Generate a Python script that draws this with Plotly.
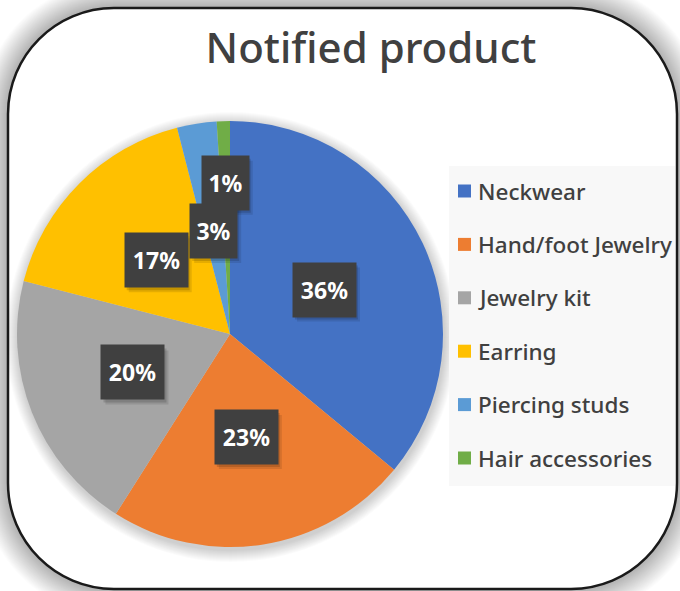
import math
import plotly.graph_objects as go

# ---- data ----
categories = ["Neckwear", "Hand/foot Jewelry", "Jewelry kit", "Earring", "Piercing studs", "Hair accessories"]
values = [36, 23, 20, 17, 3, 1]
colors = ["#4472C4", "#ED7D31", "#A5A5A5", "#FFC000", "#5B9BD5", "#70AD47"]
title_text = "Notified product"

# ---- layout helpers (pixels -> paper) ----
W, H = 680, 591


def X(px):
    return px / W


def Y(py):
    return 1 - py / H


CX, CY, R = 230, 334, 213


def rrect(l, t, r, b, rad):
    k = 0.5523 * rad
    return (
        f"M {X(l+rad)},{Y(t)} L {X(r-rad)},{Y(t)} "
        f"C {X(r-rad+k)},{Y(t)} {X(r)},{Y(t+rad-k)} {X(r)},{Y(t+rad)} "
        f"L {X(r)},{Y(b-rad)} "
        f"C {X(r)},{Y(b-rad+k)} {X(r-rad+k)},{Y(b)} {X(r-rad)},{Y(b)} "
        f"L {X(l+rad)},{Y(b)} "
        f"C {X(l+rad-k)},{Y(b)} {X(l)},{Y(b-rad+k)} {X(l)},{Y(b-rad)} "
        f"L {X(l)},{Y(t+rad)} "
        f"C {X(l)},{Y(t+rad-k)} {X(l+rad-k)},{Y(t)} {X(l+rad)},{Y(t)} Z"
    )


fig = go.Figure()
fig.add_trace(go.Pie(
    labels=categories,
    values=values,
    marker=dict(colors=colors, line=dict(width=0)),
    sort=False,
    direction="clockwise",
    rotation=0,
    textinfo="none",
    hoverinfo="label+percent",
    showlegend=False,
    domain=dict(x=[X(CX - R), X(CX + R)], y=[Y(CY + R), Y(CY - R)]),
))

shapes = []
# outer soft shadow of the card
BL, BT, BR, BB, BRAD = 8, 8, 677, 589, 106
for k in range(26, 0, -1):
    shapes.append(dict(type="path", xref="paper", yref="paper", layer="below",
                       path=rrect(BL - k, BT - k, BR + k, BB + k, BRAD + k),
                       fillcolor="rgba(0,0,0,0.010)", line=dict(width=0)))
# card
shapes.append(dict(type="path", xref="paper", yref="paper", layer="below",
                   path=rrect(BL, BT, BR, BB, BRAD),
                   fillcolor="white", line=dict(color="#1a1a1a", width=2.5)))
# pie soft shadow
for k in range(12, 0, -1):
    shapes.append(dict(type="circle", xref="paper", yref="paper", layer="below",
                       x0=X(CX - R - k + 1), x1=X(CX + R + k + 1),
                       y0=Y(CY + R + k + 3), y1=Y(CY - R - k + 3),
                       fillcolor="rgba(0,0,0,0.014)", line=dict(width=0)))
# legend background
shapes.append(dict(type="rect", xref="paper", yref="paper", layer="below",
                   x0=X(449), x1=X(675), y0=Y(486), y1=Y(166),
                   fillcolor="#f8f8f8", line=dict(width=0)))

annotations = []
# data labels (box shadows are shapes, labels are annotations)
total = sum(values)
cum = 0.0
BH = 54
for v in values:
    share = v / total
    mid = (cum + share / 2) * 2 * math.pi
    cum += share
    frac = 0.49 if share >= 0.02 else 0.71
    px = CX + frac * R * math.sin(mid)
    py = CY - frac * R * math.cos(mid)
    txt = f"{round(share * 100)}%"
    bw = 16 * len(txt) + 15
    for sx, sy, op in [(4, 5, 0.10), (2, 3, 0.14)]:
        shapes.append(dict(type="rect", xref="paper", yref="paper", layer="above",
                           x0=X(px - bw / 2 + sx), x1=X(px + bw / 2 + sx),
                           y0=Y(py + BH / 2 + sy), y1=Y(py - BH / 2 + sy),
                           fillcolor=f"rgba(0,0,0,{op})", line=dict(width=0)))
    annotations.append(dict(x=X(px), y=Y(py), xref="paper", yref="paper", text=txt,
                            showarrow=False, xanchor="center", yanchor="middle",
                            width=bw, height=BH, borderpad=0, bgcolor="#404040",
                            font=dict(family="Noto Sans", size=23, color="white", weight="bold")))

# legend entries
for i, (cat, col) in enumerate(zip(categories, colors)):
    ly = 191 + i * 53.4
    shapes.append(dict(type="rect", xref="paper", yref="paper", layer="above",
                       x0=X(458), x1=X(471), y0=Y(ly + 6.5), y1=Y(ly - 6.5),
                       fillcolor=col, line=dict(width=0)))
    annotations.append(dict(x=X(476), y=Y(ly), xref="paper", yref="paper", text=cat,
                            showarrow=False, xanchor="left", yanchor="middle",
                            font=dict(family="Noto Sans", size=22.5, color="#404040", weight=500)))

fig.update_layout(
    width=W, height=H,
    margin=dict(l=0, r=0, t=0, b=0),
    paper_bgcolor="white",
    plot_bgcolor="white",
    title=dict(text=title_text, x=X(371), xref="paper", xanchor="center",
               y=Y(48), yref="paper", yanchor="middle",
               font=dict(family="Noto Sans", size=42, color="#404040", weight=550)),
    shapes=shapes,
    annotations=annotations,
    showlegend=False,
)

fig.write_html("out.html")
